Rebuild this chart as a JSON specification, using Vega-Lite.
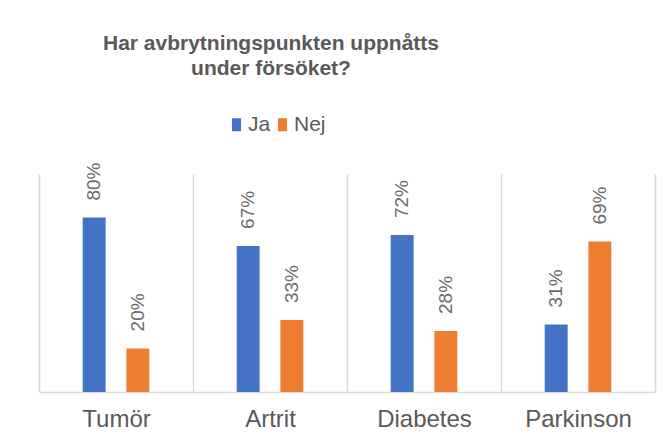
{
  "$schema": "https://vega.github.io/schema/vega-lite/v6.json",
  "width": 616,
  "height": 218,
  "autosize": {"type": "none"},
  "padding": {"left": 39, "top": 174, "right": 13, "bottom": 53},
  "background": "white",
  "title": {
    "text": ["Har avbrytningspunkten uppnåtts", "under försöket?"],
    "fontSize": 21,
    "fontWeight": "bold",
    "font": "Liberation Sans",
    "color": "#595959",
    "lineHeight": 25,
    "anchor": "middle",
    "frame": "group",
    "dx": -76,
    "offset": 35
  },
  "data": {
    "values": [
      {"kategori": "Tumör", "svar": "Ja", "andel": 0.80},
      {"kategori": "Tumör", "svar": "Nej", "andel": 0.20},
      {"kategori": "Artrit", "svar": "Ja", "andel": 0.67},
      {"kategori": "Artrit", "svar": "Nej", "andel": 0.33},
      {"kategori": "Diabetes", "svar": "Ja", "andel": 0.72},
      {"kategori": "Diabetes", "svar": "Nej", "andel": 0.28},
      {"kategori": "Parkinson", "svar": "Ja", "andel": 0.31},
      {"kategori": "Parkinson", "svar": "Nej", "andel": 0.69}
    ]
  },
  "encoding": {
    "x": {
      "field": "kategori",
      "type": "nominal",
      "sort": ["Tumör", "Artrit", "Diabetes", "Parkinson"],
      "scale": {"paddingInner": 0, "paddingOuter": 0},
      "axis": {
        "title": null,
        "labelAngle": 0,
        "labelFontSize": 24,
        "labelFont": "Liberation Sans",
        "labelColor": "#595959",
        "labelPadding": 15,
        "ticks": false,
        "grid": true,
        "tickBand": "extent",
        "gridColor": "#d9d9d9",
        "gridWidth": 1.5,
        "domainColor": "#d9d9d9",
        "domainWidth": 1.5
      }
    },
    "xOffset": {
      "field": "svar",
      "type": "nominal",
      "sort": ["Ja", "Nej"],
      "scale": {"paddingInner": 0.475, "paddingOuter": 1.1625}
    },
    "y": {
      "field": "andel",
      "type": "quantitative",
      "scale": {"domain": [0, 1]},
      "axis": null
    }
  },
  "layer": [
    {
      "mark": {"type": "bar"},
      "encoding": {
        "color": {
          "field": "svar",
          "type": "nominal",
          "sort": ["Ja", "Nej"],
          "scale": {"domain": ["Ja", "Nej"], "range": ["#4472C4", "#ED7D31"]},
          "legend": {
            "title": null,
            "orient": "none",
            "direction": "horizontal",
            "legendX": 187,
            "legendY": -60,
            "labelFontSize": 21,
            "labelFont": "Liberation Sans",
            "labelColor": "#595959",
            "labelOffset": 1,
            "columnPadding": 1,
            "symbolType": "M-0.7,-1H0.7V1H-0.7Z",
            "symbolSize": 169,
            "symbolStrokeWidth": 0
          }
        }
      }
    },
    {
      "mark": {
        "type": "text",
        "angle": 270,
        "align": "left",
        "baseline": "middle",
        "dx": 17,
        "fontSize": 19,
        "font": "Liberation Sans",
        "color": "#6b6b6b"
      },
      "encoding": {
        "text": {"field": "andel", "type": "quantitative", "format": ".0%"}
      }
    }
  ],
  "config": {"view": {"stroke": null}}
}
